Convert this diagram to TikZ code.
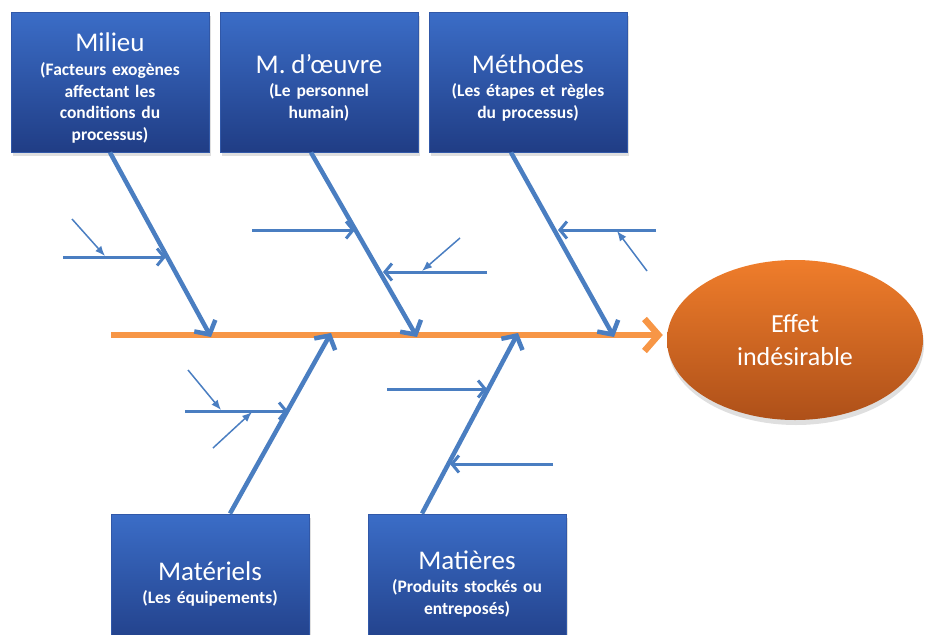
\documentclass[tikz,border=0pt]{standalone}
\usepackage{fontspec}
\setmainfont{Carlito}
\usetikzlibrary{arrows.meta}
\usetikzlibrary{shapes.geometric}
\usetikzlibrary{shadows}

\definecolor{boneblue}{HTML}{4A7EC1}
\definecolor{boxtop}{HTML}{3B6DC7}
\definecolor{boxbot}{HTML}{203D85}
\definecolor{boxline}{HTML}{3158A8}
\definecolor{spineorange}{HTML}{F79646}
\definecolor{efftop}{HTML}{EF7D2B}
\definecolor{effbot}{HTML}{AE5019}

\newcommand\causetitle[1]{{\fontsize{27}{30}\selectfont\mdseries #1}}

\tikzset{
  cause/.style={rectangle, draw=boxline, line width=1pt,
    top color=boxtop, bottom color=boxbot,
    minimum width=198pt, minimum height=140pt, text width=190pt,
    align=center, text=white, font=\fontsize{17.5}{21.5}\selectfont\bfseries,
    drop shadow={shadow xshift=2pt, shadow yshift=-4pt, opacity=.25}},
  effect/.style={ellipse, inner sep=0pt, minimum width=256pt, minimum height=160pt,
    top color=efftop, bottom color=effbot, text=white, align=center,
    font=\fontsize{26}{33}\selectfont,
    drop shadow={shadow xshift=1pt, shadow yshift=-5pt, opacity=.25}},
  spine/.style={spineorange, line width=6.5pt, -{Straight Barb[length=14pt,width=32pt]}},
  bone/.style={boneblue, line width=4.5pt, -{Straight Barb[length=10pt,width=24pt]}},
  sub/.style={boneblue, line width=3pt, -{Straight Barb[length=7pt,width=17pt]}},
  tick/.style={boneblue, line width=1.5pt, -{Latex[length=10pt,width=8pt]}}
}

\begin{document}
\begin{tikzpicture}[x=1pt, y=-1pt]
\path[use as bounding box, clip] (0,0) rectangle (930,635);

% les 5 M
\node[cause] (milieu) at (110,82) {\rule{0pt}{30pt}\causetitle{Milieu}\\[3pt] (Facteurs exogènes\\ affectant les\\ conditions du\\ processus)};
\node[cause] (oeuvre) at (319,82) {\rule{0pt}{30pt}\causetitle{M. d’œuvre}\\[2pt] (Le personnel\\ humain)};
\node[cause] (methodes) at (528,82) {\rule{0pt}{30pt}\causetitle{Méthodes}\\[2pt] (Les étapes et règles\\ du processus)};
\node[cause] (materiels) at (210,584) {\causetitle{Matériels}\\[2pt] (Les équipements)};
\node[cause] (matieres) at (467,584) {\causetitle{Matières}\\[2pt] (Produits stockés ou\\ entreposés)};

% effet
\node[effect] (eff) at (795,340) {Effet\\indésirable};

% arete centrale
\coordinate (tail) at (111,335);
\draw[spine] (tail) -- ([xshift=-4pt]tail -| eff.west);

% aretes
\coordinate (s1) at (211,337);
\coordinate (s2) at (417,337);
\coordinate (s3) at (614,337);
\coordinate (s4) at (331,333);
\coordinate (s5) at (518,333);
\draw[bone] (milieu.south) -- (s1);
\draw[bone] ([xshift=-8pt]oeuvre.south) -- (s2);
\draw[bone] ([xshift=-17pt]methodes.south) -- (s3);
\draw[bone] ([xshift=20pt]materiels.north) -- (s4);
\draw[bone] ([xshift=-45pt]matieres.north) -- (s5);

% sous-causes
\coordinate (h1a) at (63,257);  \coordinate (h1b) at (166,257);
\coordinate (h2a) at (252,230); \coordinate (h2b) at (355,230);
\coordinate (h3a) at (487,272); \coordinate (h3b) at (383,272);
\coordinate (h4a) at (656,230); \coordinate (h4b) at (558,230);
\coordinate (h5a) at (185,411); \coordinate (h5b) at (288,411);
\coordinate (h6a) at (387,389); \coordinate (h6b) at (487,389);
\coordinate (h7a) at (553,464); \coordinate (h7b) at (450,464);
\foreach \a/\b in {h1a/h1b, h2a/h2b, h3a/h3b, h4a/h4b, h5a/h5b, h6a/h6b, h7a/h7b}
  \draw[sub] (\a) -- (\b);

\coordinate (d1a) at (72,219);  \coordinate (d1b) at (105,256);
\coordinate (d2a) at (460,238); \coordinate (d2b) at (422,271);
\coordinate (d3a) at (647,271); \coordinate (d3b) at (617,231);
\coordinate (d4a) at (188,370); \coordinate (d4b) at (221,410);
\coordinate (d5a) at (213,448); \coordinate (d5b) at (252,412);
\foreach \a/\b in {d1a/d1b, d2a/d2b, d3a/d3b, d4a/d4b, d5a/d5b}
  \draw[tick] (\a) -- (\b);
\end{tikzpicture}
\end{document}
